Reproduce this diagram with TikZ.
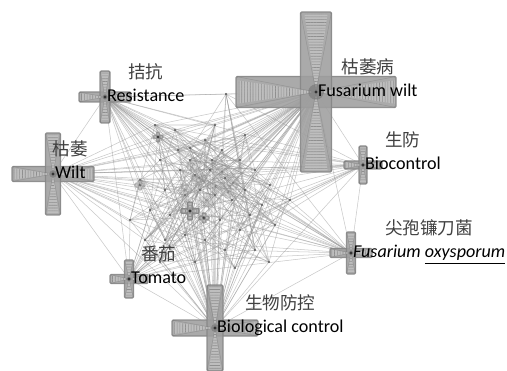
\documentclass[tikz,border=0pt]{standalone}
\usepackage{fontspec}
\setmainfont{Carlito}
\newfontfamily\zhfont{Noto Sans CJK SC}
\usetikzlibrary{positioning,patterns.meta}

\begin{document}
\begin{tikzpicture}[
    x=0.02cm, y=-0.02cm,
    link/.style={draw=gray!85, line width=0.3pt, opacity=0.5},
    arm/.style={fill=gray!75, draw=gray!95, line width=0.8pt, rounded corners=0.8pt, opacity=0.88},
    taper/.style={fill=gray!48, opacity=0.9},
    ray/.style={draw=black!70, line width=0.3pt, opacity=0.22},
    hatchv/.style={pattern={Lines[angle=0,distance=1.6pt,line width=0.35pt]}, pattern color=gray!88},
    hatchh/.style={pattern={Lines[angle=90,distance=1.6pt,line width=0.35pt]}, pattern color=gray!88},
    en/.style={font=\fontsize{10.3}{12}\selectfont, inner sep=1pt, text height=7.5pt, text depth=2pt},
    zh/.style={font=\zhfont\fontsize{10}{12}\selectfont, text=black!75, inner sep=1pt, text height=8.5pt, text depth=1.5pt}
]
    \useasboundingbox[fill=white] (0,0) rectangle (507,371);

    % keyword nodes
    \foreach \n/\cx/\cy in {fw/316/92, bcl/215/328, wi/53/174, re/105/97, bc/363/165,
        fo/351/253, to/129/279, s1/190/211, s2/204/218, s3/158/137, s4/199/178,
        s5/216/186, s6/228/192, s7/140/185, s8/207/200, s9/185/190, s10/222/172,
        s11/194/165, s12/233/183}
        \coordinate (\n) at (\cx,\cy);

    % small terms in the middle
    \foreach \i/\px/\py in {1/158/137, 2/175/130, 3/190/148, 4/205/140, 5/222/150, 6/240/160,
        7/255/170, 8/270/185, 9/160/160, 10/180/170, 11/195/175, 12/210/170, 13/225/178,
        14/245/190, 15/262/205, 16/140/180, 17/165/190, 18/185/195, 19/200/190, 20/215/195,
        21/232/200, 22/250/215, 23/150/210, 24/170/215, 25/193/210, 26/203/217, 27/220/220,
        28/240/230, 29/275/225, 30/145/240, 31/165/240, 32/185/235, 33/205/240, 34/225/250,
        35/255/250, 36/269/262, 37/160/262, 38/195/262, 39/235/268, 40/155/125, 41/215/125,
        42/245/135, 43/226/94, 44/130/220, 45/290/200, 46/212/160, 47/190/160, 48/178/150}
        \coordinate (c\i) at (\px,\py);

    % links
    \foreach \i in {1,...,48} {
        \pgfmathtruncatemacro\j{mod(\i*7,48)+1}
        \pgfmathtruncatemacro\k{mod(\i*17+5,48)+1}
        \pgfmathtruncatemacro\m{mod(\i*5+11,48)+1}
        \draw[link] (c\i) -- (c\j) (c\i) -- (c\k) (c\i) -- (c\m);
    }
    \foreach \i in {1,...,48}
        \draw[link] (fw) -- (c\i) (bcl) -- (c\i);
    \foreach \i in {2,4,...,48}
        \draw[link] (wi) -- (c\i);
    \foreach \i in {1,3,...,47}
        \draw[link] (re) -- (c\i);
    \foreach \i in {1,4,...,46}
        \draw[link] (bc) -- (c\i) (fo) -- (c\i);
    \foreach \i in {2,5,...,47}
        \draw[link] (to) -- (c\i);
    \foreach \a/\b in {re/wi, re/fw, re/bc, re/fo, re/to, re/bcl, wi/fw, wi/bc, wi/fo, wi/to,
        wi/bcl, fw/bc, fw/fo, fw/to, fw/bcl, bc/fo, bc/to, bc/bcl, fo/to, fo/bcl, to/bcl}
        \draw[link] (\a) -- (\b);
    \foreach \i in {1,...,48}
        \fill[black!65] (c\i) circle (0.7pt);

    % crosses
    \foreach \n/\L/\W/\op in {fw/80/15.5/1, bcl/43/8/1, wi/41/7.5/1, re/26/5/1, bc/19/4/1,
        fo/21/4.5/1, to/19/4.5/1, s1/9/2.5/1, s2/5/2/0.8, s3/5/1.5/0.8, s4/7/3/0.4,
        s5/8/3/0.4, s6/6/3/0.4, s7/5/2/0.6, s8/7/3/0.35, s9/6/3/0.35, s10/6/3/0.3,
        s11/7/3/0.3, s12/6/3/0.3} {
        \begin{scope}[shift={(\n)}, opacity=\op, transparency group]
            \filldraw[arm] (-\L,-\W) rectangle (\L,\W);
            \filldraw[arm] (-\W,-\L) rectangle (\W,\L);
            \fill[taper] (-\L+1.5,-0.75*\W) -- (0,0) -- (-\L+1.5,0.75*\W) -- cycle
                (\L-1.5,-0.75*\W) -- (0,0) -- (\L-1.5,0.75*\W) -- cycle;
            \fill[taper] (-0.75*\W,-\L+1.5) -- (0,0) -- (0.75*\W,-\L+1.5) -- cycle
                (-0.75*\W,\L-1.5) -- (0,0) -- (0.75*\W,\L-1.5) -- cycle;
            \fill[hatchh] (-\L+1.5,-0.75*\W) -- (0,0) -- (-\L+1.5,0.75*\W) -- cycle
                (\L-1.5,-0.75*\W) -- (0,0) -- (\L-1.5,0.75*\W) -- cycle;
            \fill[hatchv] (-0.75*\W,-\L+1.5) -- (0,0) -- (0.75*\W,-\L+1.5) -- cycle
                (-0.75*\W,\L-1.5) -- (0,0) -- (0.75*\W,\L-1.5) -- cycle;
            \draw[ray] (0,0) -- (-\L,-\W) (0,0) -- (-\L,\W) (0,0) -- (\L,-\W) (0,0) -- (\L,\W)
                (0,0) -- (-\W,-\L) (0,0) -- (\W,-\L) (0,0) -- (-\W,\L) (0,0) -- (\W,\L);
            \fill[black!55, opacity=0.55] (0,0) circle (0.5*\W);
            \fill[black!80] (0,0) circle (0.9pt);
        \end{scope}
    }

    % labels
    \node[en, anchor=west] (fwen) at (fw) {Fusarium wilt};
    \node[zh, above=2pt of fwen] (fwzh) {枯萎病};
    \node[en, anchor=west] (reen) at (re) {Resistance};
    \node[zh, above=2pt of reen] (rezh) {拮抗};
    \node[en, anchor=west] (wien) at (wi) {Wilt};
    \node[zh, above=2pt of wien] (wizh) {枯萎};
    \node[en, anchor=west] (bcen) at (bc) {Biocontrol};
    \node[zh, above=2pt of bcen] (bczh) {生防};
    \node[en, anchor=west] (foen) at (fo) {\textit{Fusarium \underline{oxysporum}}};
    \node[zh, above=2pt of foen] (fozh) {尖孢镰刀菌};
    \node[en, anchor=west] (toen) at (to) {Tomato};
    \node[zh, above=2pt of toen] (tozh) {番茄};
    \node[en, anchor=west] (bclen) at (bcl) {Biological control};
    \node[zh, above=2pt of bclen] (bclzh) {生物防控};
\end{tikzpicture}
\end{document}
